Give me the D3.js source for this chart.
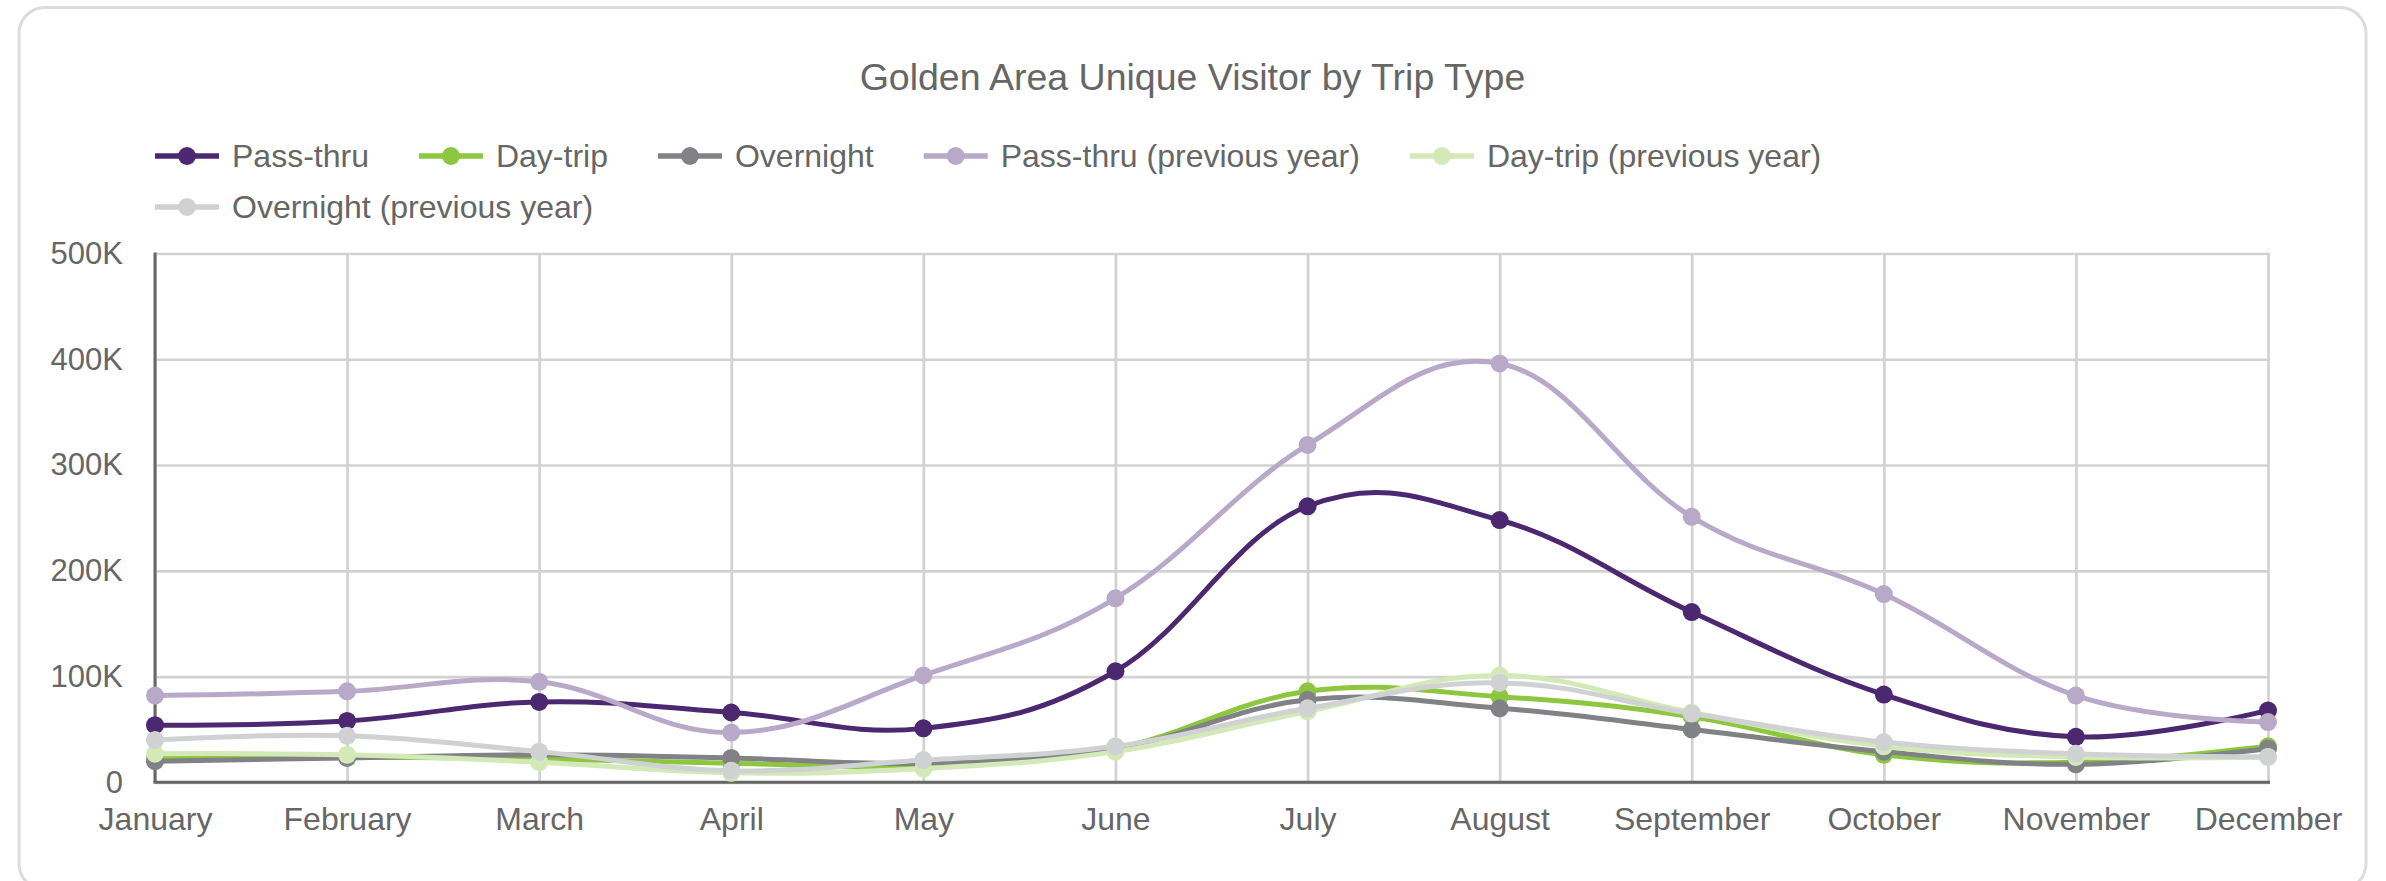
<!DOCTYPE html>
<html>
<head>
<meta charset="utf-8">
<script src="https://cdn.jsdelivr.net/npm/d3@7"></script>
<style>
    body { margin: 0; background: #fff; }
    svg { display: block; font-family: "Liberation Sans", Arial, sans-serif; }
</style>
</head>
<body>
<script>
const months = ["January", "February", "March", "April", "May", "June", "July", "August", "September", "October", "November", "December"]

const passThru = [54000, 58000, 76000, 66000, 51000, 105000, 261000, 248000, 161000, 83000, 43000, 68000]
const dayTrip = [24000, 24000, 22000, 18000, 15000, 32000, 86000, 81000, 62000, 26000, 19000, 34000]
const overnight = [20000, 23000, 26000, 23000, 18000, 32000, 78000, 70000, 50000, 29000, 17000, 32000]
const passThruPrev = [82000, 86000, 95000, 47000, 101000, 174000, 319000, 396000, 251000, 178000, 82000, 57000]
const dayTripPrev = [27000, 26000, 19000, 9000, 13000, 29000, 67000, 101000, 66000, 34000, 24000, 24000]
const overnightPrev = [40000, 44000, 29000, 11000, 21000, 34000, 70000, 94000, 65000, 38000, 27000, 24000]

const seriesNames = ["Pass-thru", "Day-trip", "Overnight", "Pass-thru (previous year)", "Day-trip (previous year)", "Overnight (previous year)"]
const seriesColors = ["#4b2870", "#8dc63f", "#808285", "#b8a9c9", "#d3e9b7", "#d0d1d3"]
const seriesValues = [passThru, dayTrip, overnight, passThruPrev, dayTripPrev, overnightPrev]

const yTicks = [0, 100000, 200000, 300000, 400000, 500000]

const svgWidth = 2386
const svgHeight = 881
const plotLeft = 155
const plotRight = 2268
const plotTop = 253.5
const plotBottom = 782.3
const textColor = "#666"

const svg = d3.select("body").append("svg")
    .attr("width", svgWidth)
    .attr("height", svgHeight)

/* card */
svg.append("rect")
    .attr("x", 19)
    .attr("y", 7.5)
    .attr("width", 2347)
    .attr("height", 882)
    .attr("rx", 26)
    .attr("fill", "#fff")
    .attr("stroke", "#dcdcdc")
    .attr("stroke-width", 3)

/* title */
svg.append("text")
    .attr("x", 1192.5)
    .attr("y", 90)
    .attr("text-anchor", "middle")
    .attr("font-size", 37.5)
    .attr("fill", textColor)
    .text("Golden Area Unique Visitor by Trip Type")

/* scales */
const xScale = d3.scalePoint()
    .domain(months)
    .range([plotLeft, plotRight])

const yScale = d3.scaleLinear()
    .domain([0, 500000])
    .range([plotBottom, plotTop])

/* grid */
svg.append("g")
    .attr("transform", `translate(${plotLeft}, 0)`)
    .call(d3.axisLeft(yScale).tickValues(yTicks).tickSize(-(plotRight - plotLeft + 2)).tickFormat(""))
    .call(g => g.select(".domain").remove())
    .call(g => g.selectAll("line").attr("stroke", "#d2d2d2").attr("stroke-width", 2.7))

svg.append("g")
    .attr("transform", `translate(0, ${plotBottom})`)
    .call(d3.axisBottom(xScale).tickSize(-(plotBottom - plotTop)).tickFormat(""))
    .call(g => g.select(".domain").remove())
    .call(g => g.selectAll("line").attr("stroke", "#d2d2d2").attr("stroke-width", 2.7))

/* axes */
const yAxis = d3.axisLeft(yScale)
    .tickValues(yTicks)
    .tickSize(0)
    .tickPadding(32)
    .tickFormat(d => d === 0 ? "0" : (d / 1000) + "K")

svg.append("g")
    .attr("transform", `translate(${plotLeft}, 0)`)
    .call(yAxis)
    .call(g => g.select(".domain").remove())
    .call(g => g.selectAll("text").attr("font-size", 31).attr("fill", textColor))
    .attr("font-family", null)

const xAxis = d3.axisBottom(xScale)
    .tickSize(0)
    .tickPadding(25)

svg.append("g")
    .attr("transform", `translate(0, ${plotBottom})`)
    .call(xAxis)
    .call(g => g.select(".domain").remove())
    .call(g => g.selectAll("text").attr("font-size", 32).attr("fill", textColor))
    .attr("font-family", null)

svg.append("line")
    .attr("x1", plotLeft).attr("x2", plotLeft)
    .attr("y1", plotTop - 1).attr("y2", plotBottom)
    .attr("stroke", "#666").attr("stroke-width", 3)

svg.append("line")
    .attr("x1", plotLeft - 1.5).attr("x2", plotRight + 2)
    .attr("y1", plotBottom).attr("y2", plotBottom)
    .attr("stroke", "#666").attr("stroke-width", 3)

/* lines */
const line = d3.line()
    .x((d, i) => xScale(months[i]))
    .y(d => yScale(d))
    .curve(d3.curveCardinal.tension(-0.15))

seriesValues.forEach((values, s) => {
    const g = svg.append("g")
    g.append("path")
        .datum(values)
        .attr("d", line)
        .attr("fill", "none")
        .attr("stroke", seriesColors[s])
        .attr("stroke-width", 5)

    g.selectAll("circle")
        .data(values)
        .enter()
        .append("circle")
        .attr("cx", (d, i) => xScale(months[i]))
        .attr("cy", d => yScale(d))
        .attr("r", 9)
        .attr("fill", seriesColors[s])
})

/* legend */
const legend = svg.append("g")
let lx = plotLeft
let ly = 156
seriesNames.forEach((name, s) => {
    const item = legend.append("g")
    const label = item.append("text")
        .attr("x", 77)
        .attr("dy", "0.35em")
        .attr("font-size", 32)
        .attr("fill", textColor)
        .text(name)
    const itemWidth = 77 + label.node().getComputedTextLength()
    if (lx + itemWidth > plotRight) {
        lx = plotLeft
        ly += 51
    }
    item.attr("transform", `translate(${lx}, ${ly})`)
    item.append("line")
        .attr("x1", 0).attr("x2", 64)
        .attr("stroke", seriesColors[s])
        .attr("stroke-width", 5.5)
    item.append("circle")
        .attr("cx", 32)
        .attr("r", 9)
        .attr("fill", seriesColors[s])
    lx += itemWidth + 50
})
</script>
</body>
</html>
